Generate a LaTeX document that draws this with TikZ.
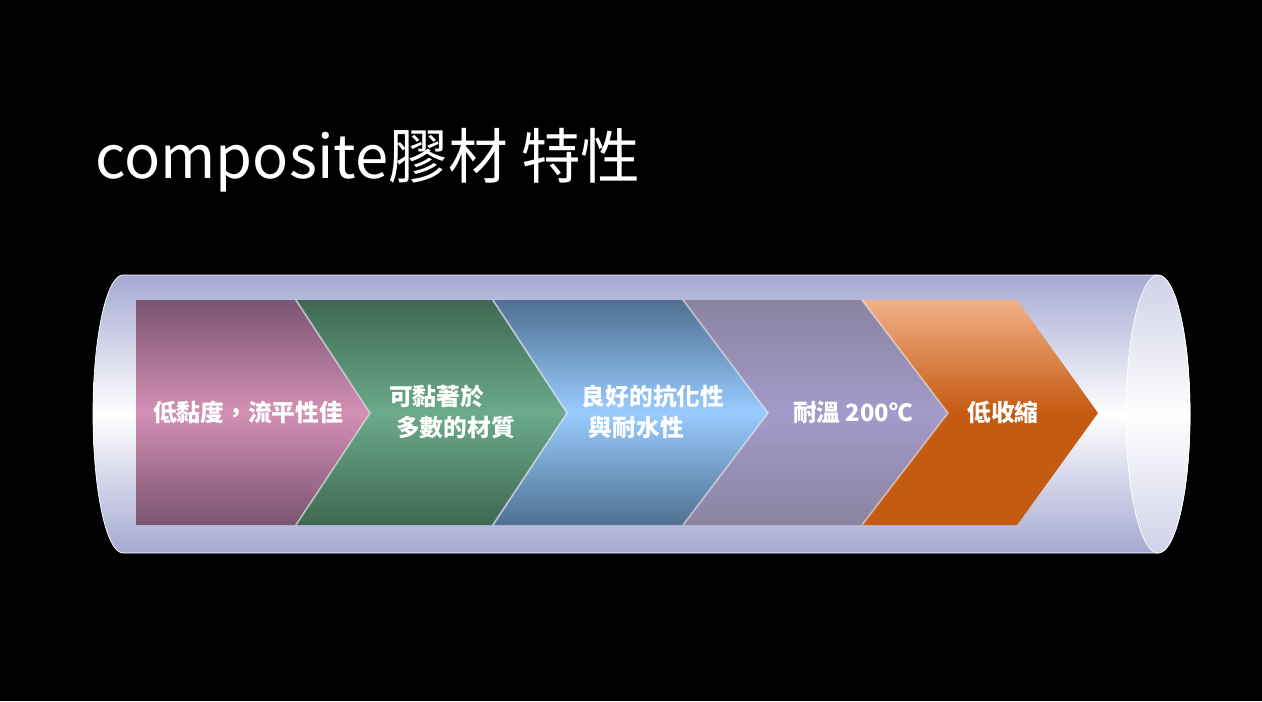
\documentclass[tikz,border=0pt]{standalone}
\usepackage{fontspec}
\setmainfont{Noto Sans CJK TC}
\usepackage{xcolor}

% chevron colours (top / middle / bottom)
\definecolor{c1top}{HTML}{7A5470}
\definecolor{c1mid}{HTML}{D390B4}
\definecolor{c1bot}{HTML}{7A5470}
\definecolor{c2top}{HTML}{3F6852}
\definecolor{c2mid}{HTML}{6BAA8C}
\definecolor{c2bot}{HTML}{3F6852}
\definecolor{c3top}{HTML}{4F7090}
\definecolor{c3mid}{HTML}{99CCFF}
\definecolor{c3bot}{HTML}{4F7090}
\definecolor{c4top}{HTML}{8A84A0}
\definecolor{c4mid}{HTML}{A49ACA}
\definecolor{c4bot}{HTML}{8A84A0}
\definecolor{c5top}{HTML}{F2B088}
\definecolor{c5mid}{HTML}{C55A11}
\definecolor{c5bot}{HTML}{C55A11}
% tube
\definecolor{tubeedge}{HTML}{A6A9D2}
\definecolor{tubeend}{HTML}{CFD1E8}

\begin{document}
\begin{tikzpicture}[x=0.02cm,y=0.02cm,
    chevtext/.style={text=white,inner sep=0pt,align=left,
        font=\bfseries\fontsize{13.5}{17.5}\selectfont}]
    % background
    \fill[black] (0,0) rectangle (1262,-701);
    % title
    \node[anchor=west,inner sep=0pt,text=white,font=\fontsize{34}{40}\selectfont] (title) at (95,-160) {composite膠材 特性};
    % tube
    \shade[top color=tubeedge,bottom color=tubeedge,middle color=white,draw=white,line width=0.4pt]
        (1158,-275) -- (123,-275) arc[start angle=90,end angle=270,x radius=30,y radius=139]
        -- (1158,-553) arc[start angle=-90,end angle=90,x radius=32,y radius=139] -- cycle;
    \shade[top color=tubeend,bottom color=tubeend,middle color=white,draw=white,line width=0.4pt]
        (1158,-414) ellipse [x radius=32,y radius=139];
    % chevrons
    \shade[top color=c1top,bottom color=c1bot,middle color=c1mid]
        (136,-300) -- (295,-300) -- (370,-413) -- (295,-525) -- (136,-525) -- cycle;
    \foreach \l/\r/\t/\n/\k in {296/492/567/370/2,493/683/768/567/3,683/862/948/768/4,862/1017/1098/948/5} {
        \shade[top color=c\k top,bottom color=c\k bot,middle color=c\k mid]
            (\l,-300) -- (\r,-300) -- (\t,-413) -- (\r,-525) -- (\l,-525) -- (\n,-413) -- cycle;
        \draw[white,opacity=.45,line width=1pt] (\l,-300) -- (\n,-413) -- (\l,-525);
    }
    % labels
    \node[chevtext] (t1) at (248,-412) {低黏度，流平性佳};
    \node[chevtext] (t2) at (452,-412) {可黏著於\\\hspace{0.3em}多數的材質};
    \node[chevtext] (t3) at (653,-412) {良好的抗化性\\\hspace{0.3em}與耐水性};
    \node[chevtext] (t4) at (853,-412) {耐溫 200℃};
    \node[chevtext] (t5) at (1003,-412) {低收縮};
\end{tikzpicture}
\end{document}
